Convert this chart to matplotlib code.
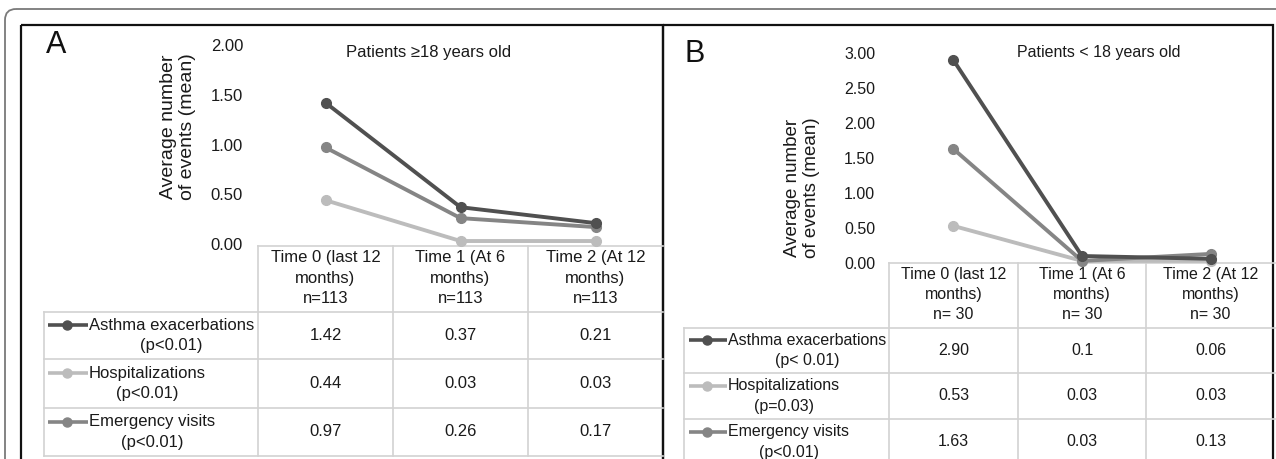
import matplotlib
matplotlib.use("Agg")
import matplotlib.pyplot as plt
from matplotlib.patches import Rectangle, FancyBboxPatch

plt.rcParams['font.family'] = ['Liberation Sans', 'DejaVu Sans']

# ---------------- data ----------------
series_names = ["Asthma exacerbations", "Hospitalizations", "Emergency visits"]
series_colors = ["#505050", "#bcbcbc", "#858585"]

time_labels_a = ["Time 0 (last 12\nmonths)\nn=113",
                 "Time 1 (At 6\nmonths)\nn=113",
                 "Time 2 (At 12\nmonths)\nn=113"]
time_labels_b = ["Time 0 (last 12\nmonths)\nn= 30",
                 "Time 1 (At 6\nmonths)\nn= 30",
                 "Time 2 (At 12\nmonths)\nn= 30"]

p_values_a = ["(p<0.01)", "(p<0.01)", "(p<0.01)"]
p_values_b = ["(p< 0.01)", "(p=0.03)", "(p<0.01)"]

asthma_a = [1.42, 0.37, 0.21]
hosp_a = [0.44, 0.03, 0.03]
emerg_a = [0.97, 0.26, 0.17]

asthma_b = [2.90, 0.10, 0.06]
hosp_b = [0.53, 0.03, 0.03]
emerg_b = [1.63, 0.03, 0.13]

table_text_a = [["1.42", "0.37", "0.21"],
                ["0.44", "0.03", "0.03"],
                ["0.97", "0.26", "0.17"]]
table_text_b = [["2.90", "0.1", "0.06"],
                ["0.53", "0.03", "0.03"],
                ["1.63", "0.03", "0.13"]]

yticks_a = [0.0, 0.5, 1.0, 1.5, 2.0]
yticks_b = [0.0, 0.5, 1.0, 1.5, 2.0, 2.5, 3.0]

titles = ["Patients \u226518 years old", "Patients < 18 years old"]
ylabel = "Average number\nof events (mean)"

# ---------------- figure ----------------
W, H = 1276, 459
fig = plt.figure(figsize=(W / 100, H / 100), dpi=100)
ov = fig.add_axes([0, 0, 1, 1], zorder=0)
ov.set_xlim(0, W)
ov.set_ylim(H, 0)
ov.axis("off")

TXT = "#1a1a1a"
GRID = "#d2d2d2"


def px_axes(x0, x1, y_top, y_bot, z=2):
    return fig.add_axes([x0 / W, 1 - y_bot / H, (x1 - x0) / W, (y_bot - y_top) / H],
                        zorder=z, facecolor="none")


# outer rounded frame
ov.add_patch(FancyBboxPatch((5, 9), 1300, 500, boxstyle="round,pad=0,rounding_size=11",
                            fill=False, ec="#7a7a7a", lw=1.3, clip_on=False))
# panel boxes
ov.add_patch(Rectangle((21, 25), 642, 470, fill=False, ec="#111111", lw=1.6, clip_on=False))
ov.add_patch(Rectangle((663, 25), 610, 470, fill=False, ec="#111111", lw=1.6, clip_on=False))


def panel(letter, letter_xy, title, title_xy, ylab_xy, ylab_fs,
          x_cols, y_top, y_zero, ylim_top, yticks, tick_pad, fs,
          tab_top, hdr_bot, row_bounds, row_left, key_x, times,
          data, ptexts, tabtext):
    ov.text(*letter_xy, letter, fontsize=22, ha="center", va="center", color="#111111")
    ov.text(*title_xy, title, fontsize=fs, ha="center", va="center", color=TXT)
    ov.text(*ylab_xy, ylabel, fontsize=ylab_fs, rotation=90, ha="center", va="center",
            multialignment="center", linespacing=1.1, color=TXT)

    # table grid
    x0, x3 = x_cols[0], x_cols[-1]
    ov.plot([x0, x3], [tab_top, tab_top], color=GRID, lw=1.2)
    for xc in x_cols[:-1]:
        ov.plot([xc, xc], [tab_top, row_bounds[-1]], color=GRID, lw=1.2)
    ov.plot([row_left, row_left], [hdr_bot, row_bounds[-1]], color=GRID, lw=1.2)
    for yb in [hdr_bot] + row_bounds:
        ov.plot([row_left, x3], [yb, yb], color=GRID, lw=1.2)

    centers = [(x_cols[i] + x_cols[i + 1]) / 2 for i in range(3)]
    for c, lab in zip(centers, times):
        ov.text(c, (tab_top + hdr_bot) / 2 - 1, lab, fontsize=fs, ha="center", va="center",
                multialignment="center", linespacing=1.45, color=TXT)

    tops = [hdr_bot] + row_bounds[:-1]
    for i, name in enumerate(series_names):
        yc = (tops[i] + row_bounds[i]) / 2
        ov.plot([key_x[0], key_x[2]], [yc - 10.5, yc - 10.5], color=series_colors[i],
                lw=2.6, solid_capstyle="butt")
        ov.plot([key_x[1]], [yc - 10.5], "o", color=series_colors[i], ms=6.5)
        ov.text(key_x[2] + 1, yc, name + "\n" + ptexts[i], fontsize=fs, ha="left",
                va="center", multialignment="center", linespacing=1.45, color=TXT)
        for j in range(3):
            ov.text(centers[j], yc, tabtext[i][j], fontsize=fs, ha="center",
                    va="center", color=TXT)

    # line chart
    ax = px_axes(x0, x3, y_top, y_zero)
    ax.set_xlim(-0.5, 2.5)
    ax.set_ylim(0, ylim_top)
    for k in [1, 2, 0]:
        ax.plot(range(3), data[k], color=series_colors[k], lw=2.8, marker="o", ms=7,
                clip_on=False, solid_capstyle="round")
    ax.set_xticks([])
    ax.set_yticks(yticks)
    ax.set_yticklabels([f"{t:.2f}" for t in yticks])
    ax.tick_params(axis="y", length=0, pad=tick_pad, labelsize=fs, labelcolor=TXT)
    for s in ax.spines.values():
        s.set_visible(False)


panel("A", (56, 45), titles[0], (429, 52), (178, 127), 14,
      [258, 393, 528, 663], 45, 244, 2.0, yticks_a, 10.8, 12,
      246, 312, [359, 408, 456], 44, (48, 67, 88), time_labels_a,
      [asthma_a, hosp_a, emerg_a], p_values_a, table_text_a)

panel("B", (695, 54), titles[1], (1099, 52), (802, 188), 13.5,
      [889, 1018, 1146, 1275], 53, 263, 3.0, yticks_b, 10.0, 11.5,
      263, 328, [373, 419, 465], 684, (689, 707, 727), time_labels_b,
      [asthma_b, hosp_b, emerg_b], p_values_b, table_text_b)

fig.savefig("out.png", dpi=100)
